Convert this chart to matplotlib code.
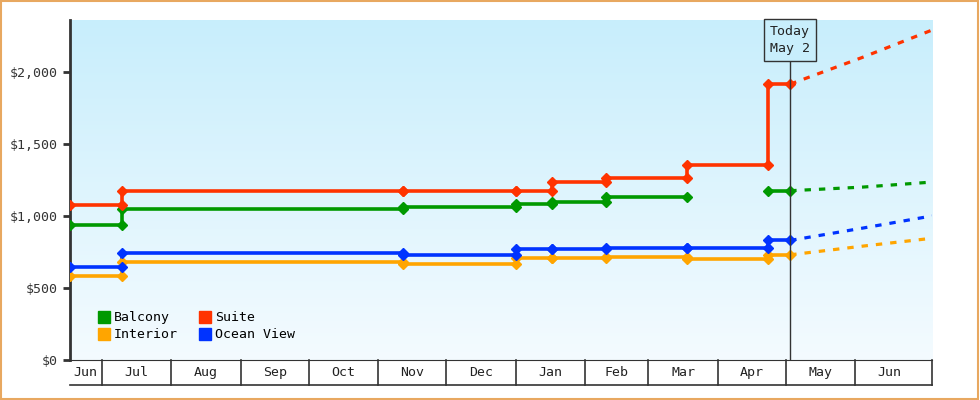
import matplotlib
matplotlib.use("Agg")
import matplotlib.pyplot as plt
import numpy as np
from matplotlib.patches import Rectangle
from matplotlib.lines import Line2D

# days since Jul 1
month_names = ["Jun", "Jul", "Aug", "Sep", "Oct", "Nov", "Dec", "Jan", "Feb", "Mar", "Apr", "May", "Jun"]
month_starts = [-30, 0, 31, 62, 92, 123, 153, 184, 215, 243, 274, 304, 335, 365]
x_min, x_max = -14, 369
today = 306

# step segments: break days and values (each value holds until next break)
seg_days = [-14, 9, 134, 184, 200, 224, 260, 296, 306]
balcony  = [940, 1045, 1065, 1080, 1100, 1130, np.nan, 1175]
suite    = [1075, 1175, 1170, 1175, 1235, 1265, 1355, 1915]
interior = [585, 680, 665, 705, 710, 712, 700, 730]
ocean    = [645, 740, 730, 770, 770, 775, 780, 830]

fc_days = [306, 338, 369]
balcony_fc  = [1175, 1200, 1235]
suite_fc    = [1915, 2100, 2290]
interior_fc = [730, 790, 845]
ocean_fc    = [830, 915, 1000]

series = [("Balcony", balcony, balcony_fc, "#009900"),
          ("Interior", interior, interior_fc, "#ffa500"),
          ("Suite", suite, suite_fc, "#ff3300"),
          ("Ocean View", ocean, ocean_fc, "#0033ff")]

plt.rcParams['font.family'] = ['DejaVu Sans Mono']
fig = plt.figure(figsize=(9.8, 4), dpi=100)
fig.patch.set_facecolor("white")
fig.add_artist(Rectangle((0.001, 0.002), 0.997, 0.995, transform=fig.transFigure,
                         fill=False, edgecolor="#e8a860", linewidth=1.5))
ax = fig.add_axes([70/980, 40/400, 862/980, 340/400])
ax.set_xlim(x_min, x_max)
ax.set_ylim(0, 2360)

grad = np.linspace(0, 1, 256).reshape(-1, 1)
top = np.array([0xc8, 0xee, 0xfc]) / 255
bot = np.array([0xf4, 0xfb, 0xff]) / 255
img = bot + (top - bot) * grad
ax.imshow(img[:, None, :].repeat(2, axis=1), extent=[x_min, x_max, 0, 2360],
          origin="lower", aspect="auto", zorder=0)

for name, vals, fc, col in series:
    for i, v in enumerate(vals):
        if np.isnan(v):
            continue
        x0, x1 = seg_days[i], seg_days[i + 1]
        ax.plot([x0, x1], [v, v], color=col, lw=2.6, zorder=3)
        ax.plot([x0, x1], [v, v], 'D', color=col, ms=5, zorder=4)
        if i > 0 and not np.isnan(vals[i - 1]):
            ax.plot([x0, x0], [vals[i - 1], v], color=col, lw=2.6, zorder=3)
    ax.plot(fc_days, fc, color=col, lw=2.3, ls=(0, (2, 2.5)), zorder=3)

ax.plot([today, today], [0, 2080], color="#333333", lw=1, zorder=5)
ax.text(today, 2220, "Today\nMay 2", ha="center", va="center", fontsize=9.5, color="#222222",
        linespacing=1.4, zorder=6,
        bbox=dict(boxstyle="square,pad=0.45", fc="#c8eefc", ec="#333333", lw=1))

for s in ["top", "right"]:
    ax.spines[s].set_visible(False)
ax.spines["left"].set_color("#333333")
ax.spines["left"].set_linewidth(2)
ax.spines["bottom"].set_color("#333333")
ax.set_yticks([0, 500, 1000, 1500, 2000])
ax.set_yticklabels(["$0", "$500", "$1,000", "$1,500", "$2,000"], fontsize=9.5, color="#333333")
ax.tick_params(axis="y", length=5, width=2, color="#333333")
ax.set_xticks([])

# month boxes below axes
trans = ax.get_xaxis_transform()
yb = -25/340
ax.plot([x_min, x_max], [yb, yb], transform=trans, clip_on=False, color="#333333", lw=1.2)
for i, name in enumerate(month_names):
    a, b = month_starts[i], month_starts[i + 1]
    if 0 < i:
        ax.plot([a, a], [0, yb], transform=trans, clip_on=False, color="#333333", lw=1.2)
    lo, hi = max(a, x_min), min(b, x_max)
    ax.text((lo + hi) / 2, yb / 2, name, transform=trans, ha="center", va="center",
            fontsize=9.5, color="#222222")
ax.plot([x_max, x_max], [0, yb], transform=trans, clip_on=False, color="#333333", lw=1.2)

handles = [Line2D([], [], marker="s", ls="none", color=c, ms=8) for _, _, _, c in series]
ax.legend(handles, [n for n, _, _, _ in series], ncol=2, loc="lower left",
          bbox_to_anchor=(0.01, 0.02), frameon=False, fontsize=9.5,
          handletextpad=-0.2, columnspacing=1.0, labelspacing=0.3)

fig.savefig("out.png", dpi=100)
